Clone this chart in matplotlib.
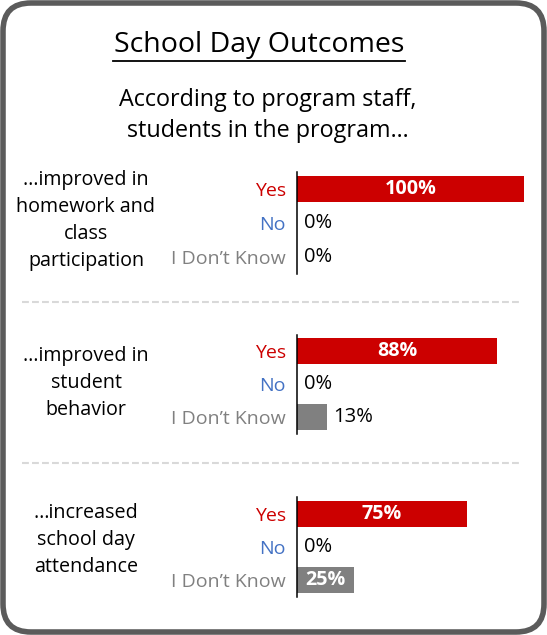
import matplotlib
matplotlib.use("Agg")
import matplotlib.pyplot as plt
from matplotlib.patches import FancyBboxPatch

plt.rcParams['font.family'] = ['Open Sans', 'DejaVu Sans']

# data
groups = [["…improved in", "homework and", "class", "participation"],
          ["…improved in", "student", "behavior"],
          ["…increased", "school day", "attendance"]]
answers = ["Yes", "No", "I Don\u2019t Know"]
yes = [100, 88, 75]
no = [0, 0, 0]
dont_know = [0, 13, 25]

ans_colors = ["#cc0000", "#4472c4", "#808080"]
bar_colors = ["#cc0000", "#4472c4", "#808080"]

W, H = 547, 635
fig = plt.figure(figsize=(W / 100, H / 100), dpi=100)

# background in pixel coords
bg = fig.add_axes([0, 0, 1, 1])
bg.set_xlim(0, W)
bg.set_ylim(H, 0)
bg.axis('off')
bg.add_patch(FancyBboxPatch((3, 3), W - 6, H - 6,
                            boxstyle="round,pad=0,rounding_size=28",
                            lw=4, ec="#5b5b5b", fc="white"))

bg.text(259, 45, "School Day Outcomes", ha='center', va='center', fontsize=20.5,
        fontweight='medium')
bg.plot([113, 405], [61, 61], color='black', lw=1.3)
bg.text(268, 100, "According to program staff,", ha='center', va='center', fontsize=16.8)
bg.text(268, 131, "students in the program…", ha='center', va='center', fontsize=16.8)

for yy in [302, 463]:
    bg.plot([22, 522], [yy, yy], color="#d9d9d9", lw=1.5, dashes=(3.3, 1.5))

# group label centers and bar-axes extents (pixels)
label_centers = [220.5, 383, 540]
axes_px = [(172, 274), (334.5, 433.5), (497, 597)]

x0, full = 297, 227
for g in range(3):
    lines = groups[g]
    n = len(lines)
    for i, line in enumerate(lines):
        yy = label_centers[g] + (i - (n - 1) / 2) * 27
        bg.text(86, yy, line, ha='center', va='center', fontsize=14.2)

    top, bot = axes_px[g]
    ax = fig.add_axes([x0 / W, 1 - bot / H, full / W, (bot - top) / H])
    ax.patch.set_alpha(0)
    vals = [yes[g], no[g], dont_know[g]]
    ax.barh(range(3), vals, height=0.78, color=bar_colors)
    ax.set_xlim(0, 100)
    ax.set_ylim(2.5, -0.5)
    ax.set_xticks([])
    ax.set_yticks(range(3))
    ax.set_yticklabels(answers, fontsize=14)
    for lab, c in zip(ax.get_yticklabels(), ans_colors):
        lab.set_color(c)
    ax.tick_params(axis='y', length=0, pad=8)
    for s in ['top', 'right', 'bottom']:
        ax.spines[s].set_visible(False)
    ax.spines['left'].set_linewidth(1.1)
    for i, v in enumerate(vals):
        if v >= 20:
            ax.text(v / 2, i, f"{v}%", ha='center', va='center', color='white',
                    fontsize=14.2, fontweight='bold')
        else:
            ax.annotate(f"{v}%", (v, i), xytext=(5, 0), textcoords='offset points',
                        ha='left', va='center', color='black', fontsize=14.5)

fig.savefig("out.png", dpi=100, facecolor='white')
